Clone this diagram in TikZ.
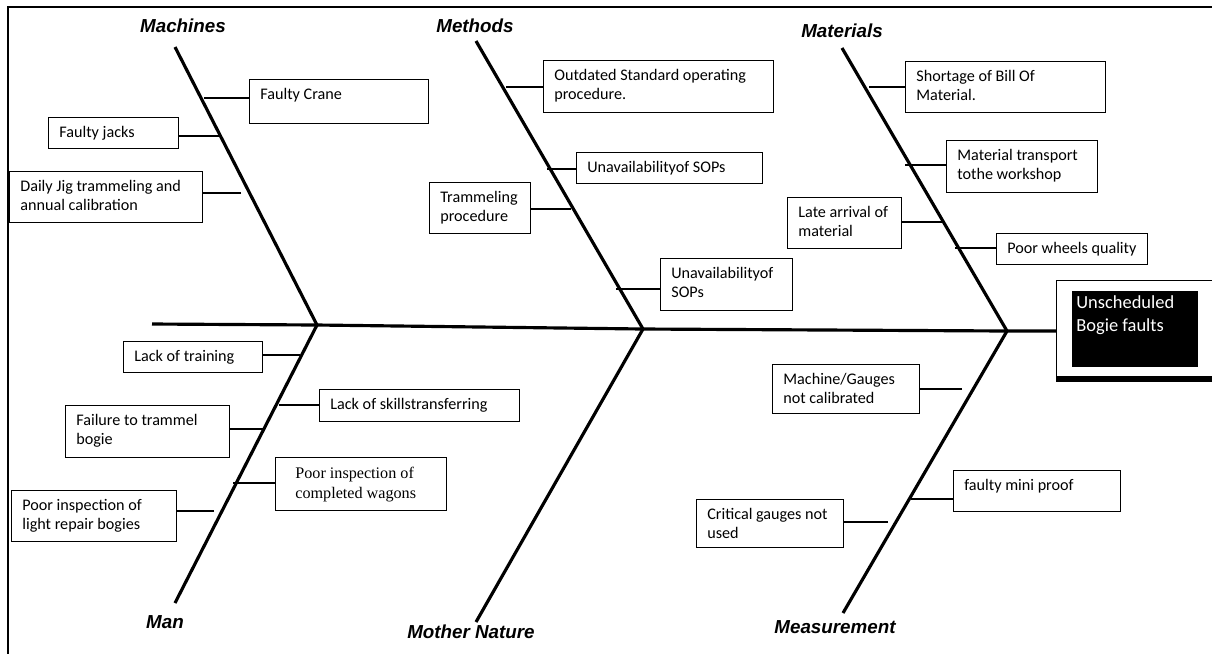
\documentclass[tikz,border=0pt]{standalone}
\usepackage{fontspec}
\setmainfont{Carlito}
\newfontfamily\headfont{Liberation Sans}
\newfontfamily\timesfont{Liberation Serif}
\usetikzlibrary{calc}
\tikzset{
  bone/.style={line width=1.8pt},
  twig/.style={line width=0.6pt},
  cause/.style={draw, line width=0.75pt, anchor=north west, inner sep=0pt},
  causetext/.style={anchor=north west, align=left, inner xsep=0.22cm, inner ysep=0.17cm, font=\fontsize{9.2}{11.3}\selectfont},
  head/.style={font=\headfont\bfseries\itshape\fontsize{10.7}{12}\selectfont},
}
\def\causeBox#1#2#3#4#5{
\node[cause, minimum width=#3*0.02cm, minimum height=#4*0.02cm] (#1) at (#2) {};
\node[causetext] (#1t) at (#1.north west) {#5};
}

\begin{document}
\begin{tikzpicture}[x=0.02cm, y=-0.02cm]
  \useasboundingbox (0,0) rectangle (1212,654);
  \draw[line width=1.2pt] (1212,7) -- (8,7) -- (8,654);

  \coordinate (tail) at (152,324);
  \coordinate (machTop) at (175,47);
  \coordinate (methTop) at (476,41);
  \coordinate (matTop) at (842,48);
  \coordinate (manBot) at (175,603);
  \coordinate (natBot) at (476,622);
  \coordinate (measBot) at (843,613);
  \coordinate (j1) at (317,325);
  \coordinate (j2) at (643,329);
  \coordinate (j3) at (1007,331);

  \node[cause, minimum width=170*0.02cm, minimum height=96*0.02cm] (effect) at (1056,280) {};
  \draw[line width=2.6pt] ([yshift=-1.2pt]effect.south west) -- ([yshift=-1.2pt]effect.south east);
  \node[cause, fill=black, minimum width=125*0.02cm, minimum height=75*0.02cm] (effectin) at (1072,291) {};
  \node[anchor=north west, align=left, text=white, inner xsep=0.08cm, inner ysep=0.08cm,
        font=\fontsize{10.5}{13}\selectfont] (effectt) at (effectin.north west) {Unscheduled\\Bogie faults};

  \draw[bone] (tail) -- (j1) -- (j2) -- (j3) -- (j3 -| effect.west);
  \draw[bone] (machTop) -- (j1) -- (manBot);
  \draw[bone] (methTop) -- (j2) -- (natBot);
  \draw[bone] (matTop) -- (j3) -- (measBot);

  \node[head] (machines) at (183,26) {Machines};
  \node[head] (methods) at (475,26) {Methods};
  \node[head] (materials) at (842,31) {Materials};
  \node[head] (man) at (165,622) {Man};
  \node[head] (nature) at (471,632) {Mother Nature};
  \node[head] (measure) at (835,627) {Measurement};

  \causeBox{crane}{249,79}{179}{44}{Faulty Crane}
  \causeBox{jacks}{48,117}{130}{31}{Faulty jacks}
  \causeBox{jig}{9,171}{193}{51}{Daily Jig trammeling and\\annual calibration}
  \causeBox{sop}{543,60}{230}{52}{Outdated Standard operating\\procedure.}
  \causeBox{sopa}{576,152}{186}{31}{Unavailabilityof SOPs}
  \causeBox{tram}{429,182}{101}{51}{Trammeling\\procedure}
  \causeBox{sopb}{660,258}{132}{52}{Unavailabilityof\\SOPs}
  \causeBox{bom}{905,61}{200}{51}{Shortage of Bill Of\\Material.}
  \causeBox{transp}{946,140}{151}{52}{Material transport\\tothe workshop}
  \causeBox{late}{787,197}{114}{51}{Late arrival of\\material}
  \causeBox{wheel}{996,233}{151}{31}{Poor wheels quality}
  \causeBox{train}{123,341}{139}{31}{Lack of training}
  \causeBox{skill}{319,389}{200}{32}{Lack of skillstransferring}
  \causeBox{fail}{65,405}{164}{52}{Failure to trammel\\bogie}
  \causeBox{light}{11,490}{165}{51}{Poor inspection of\\light repair bogies}
  \causeBox{gauge}{772,364}{147}{49}{Machine/Gauges\\not calibrated}
  \causeBox{proof}{953,470}{167}{41}{faulty mini proof}
  \causeBox{crit}{696,499}{147}{48}{Critical gauges not\\used}
  \node[cause, minimum width=171*0.02cm, minimum height=53*0.02cm] (wagon) at (275,457) {};
  \node[causetext, inner xsep=0.4cm, inner ysep=0.2cm, font=\timesfont\fontsize{9.2}{11.3}\selectfont] (wagont) at (wagon.north west) {Poor inspection of\\completed wagons};

  \coordinate (k1) at (204,98);
  \coordinate (k2) at (219,136);
  \coordinate (k3) at (241,193);
  \coordinate (k4) at (506,87);
  \coordinate (k5) at (547,169);
  \coordinate (k6) at (571,209);
  \coordinate (k7) at (616,289);
  \coordinate (k8) at (869,87);
  \coordinate (k9) at (905,165);
  \coordinate (k10) at (943,222);
  \coordinate (k11) at (955,248);
  \coordinate (k12) at (300,355);
  \coordinate (k13) at (279,405);
  \coordinate (k14) at (263,429);
  \coordinate (k15) at (233,483);
  \coordinate (k16) at (214,511);
  \coordinate (k17) at (962,389);
  \coordinate (k18) at (911,499);
  \coordinate (k19) at (888,522);

  \draw[twig] (k1) -- (k1 -| crane.west);
  \draw[twig] (k2) -- (k2 -| jacks.east);
  \draw[twig] (k3) -- (k3 -| jig.east);
  \draw[twig] (k4) -- (k4 -| sop.west);
  \draw[twig] (k5) -- (k5 -| sopa.west);
  \draw[twig] (k6) -- (k6 -| tram.east);
  \draw[twig] (k7) -- (k7 -| sopb.west);
  \draw[twig] (k8) -- (k8 -| bom.west);
  \draw[twig] (k9) -- (k9 -| transp.west);
  \draw[twig] (k10) -- (k10 -| late.east);
  \draw[twig] (k11) -- (k11 -| wheel.west);
  \draw[twig] (k12) -- (k12 -| train.east);
  \draw[twig] (k13) -- (k13 -| skill.west);
  \draw[twig] (k14) -- (k14 -| fail.east);
  \draw[twig] (k15) -- (k15 -| wagon.west);
  \draw[twig] (k16) -- (k16 -| light.east);
  \draw[twig] (k17) -- (k17 -| gauge.east);
  \draw[twig] (k18) -- (k18 -| proof.west);
  \draw[twig] (k19) -- (k19 -| crit.east);
\end{tikzpicture}
\end{document}
